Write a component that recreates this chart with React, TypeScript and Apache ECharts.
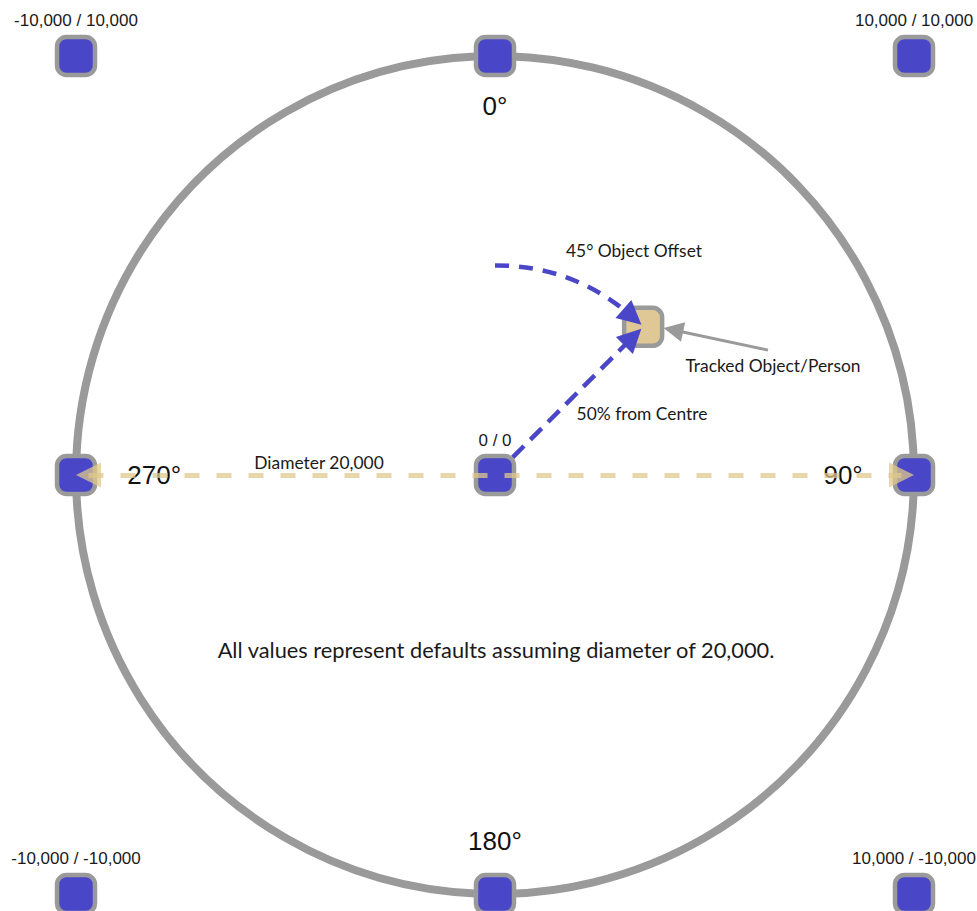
import React, { useEffect, useRef } from 'react';
import * as echarts from 'echarts';

// ---- data ----
const DIAMETER = 20000;
const CORNER_POINTS: number[][] = [
  [-10000, 10000],
  [10000, 10000],
  [-10000, -10000],
  [10000, -10000],
];
const CARDINAL_POINTS: number[][] = [
  [0, 10000],
  [10000, 0],
  [0, -10000],
  [-10000, 0],
];
const DEGREE_LABELS = ['0°', '90°', '180°', '270°'];
const CENTRE_POINT = [0, 0];
const OBJECT_ANGLE = 45; // degrees, clockwise from 0° (top)
const OBJECT_DISTANCE_PCT = 50; // % of radius from centre
const ANNOTATIONS = [
  '45° Object Offset',
  'Tracked Object/Person',
  '50% from Centre',
  'Diameter 20,000',
  'All values represent defaults assuming diameter of 20,000.',
];

// ---- layout ----
const W = 977;
const H = 911;
const CX = 495;
const CY = 475;
const R = 419;
const BLUE = '#4a46c8';
const GREY = '#9a9a9a';
const TAN = '#dfc896';
const NUM_FONT = '"Liberation Sans", Arial, Helvetica, sans-serif';
const NOTE_FONT = 'Lato, "Noto Sans", sans-serif';

const HALF = DIAMETER / 2;
const rad = (d: number) => (d * Math.PI) / 180;
const objDist = (HALF * OBJECT_DISTANCE_PCT) / 100;
const polarToXY = (angle: number, dist: number) => [dist * Math.sin(rad(angle)), dist * Math.cos(rad(angle))];
const OBJECT_POINT = polarToXY(OBJECT_ANGLE, objDist);
const fmt = (v: number) => v.toLocaleString('en-US');

export default function App() {
  const ref = useRef<HTMLDivElement>(null);
  useEffect(() => {
    document.body.style.margin = '0';
    if (!ref.current) return;
    const chart = echarts.init(ref.current, null, { renderer: 'svg' });

    const cardinalPos = ['bottom', 'left', 'top', 'right'];
    const cardinalDist = [16, 30, 19, 30];

    const blueSquares = [
      ...CORNER_POINTS.map((p) => ({
        value: p,
        label: {
          show: true,
          position: 'top',
          distance: 6,
          formatter: `${fmt(p[0])} / ${fmt(p[1])}`,
          fontSize: 17,
          fontFamily: NUM_FONT,
          color: '#1a1a1a',
        },
      })),
      ...CARDINAL_POINTS.map((p, i) => ({
        value: p,
        label: {
          show: true,
          position: cardinalPos[i],
          distance: cardinalDist[i],
          formatter: DEGREE_LABELS[i],
          fontSize: 26,
          fontFamily: NUM_FONT,
          color: '#111',
        },
      })),
      {
        value: CENTRE_POINT,
        label: {
          show: true,
          position: 'top',
          distance: 5,
          formatter: `${fmt(CENTRE_POINT[0])} / ${fmt(CENTRE_POINT[1])}`,
          fontSize: 17,
          fontFamily: NUM_FONT,
          color: '#1a1a1a',
        },
      },
    ];

    const pxPerUnit = R / HALF;
    const radialEnd = polarToXY(OBJECT_ANGLE, objDist - 12 / pxPerUnit - 60);
    const arcEnd = polarToXY(OBJECT_ANGLE - 4, objDist);
    const pointerFrom = [OBJECT_POINT[0] + 2980, OBJECT_POINT[1] - 555];
    const pointerTo = [OBJECT_POINT[0] + 720, OBJECT_POINT[1] - 75];
    const diamEnd = HALF - 12.5 / pxPerUnit;

    const textStyle = (text: string, size: number) => ({
      text,
      fontSize: size,
      fontFamily: NOTE_FONT,
      fill: '#1a1a1a',
      align: 'center',
      verticalAlign: 'middle',
      textAlign: 'center',
      textVerticalAlign: 'middle',
    });

    chart.setOption({
      animation: false,
      grid: { left: CX - R, top: CY - R, width: 2 * R, height: 2 * R },
      xAxis: { type: 'value', min: -HALF, max: HALF, show: false },
      yAxis: { type: 'value', min: -HALF, max: HALF, show: false },
      polar: { center: [CX, CY], radius: R },
      angleAxis: {
        type: 'value',
        min: 0,
        max: 360,
        startAngle: 90,
        clockwise: true,
        axisLine: { show: true, lineStyle: { color: GREY, width: 8 } },
        axisTick: { show: false },
        axisLabel: { show: false },
        splitLine: { show: false },
      },
      radiusAxis: { type: 'value', min: 0, max: HALF, show: false },
      series: [
        {
          type: 'scatter',
          z: 2,
          symbol: 'roundRect',
          symbolSize: 38,
          itemStyle: { color: TAN, borderColor: GREY, borderWidth: 4.5, opacity: 1 },
          data: [{ value: OBJECT_POINT }],
        },
        {
          type: 'lines',
          coordinateSystem: 'cartesian2d',
          z: 3,
          symbol: ['none', 'triangle'],
          symbolSize: 24,
          lineStyle: { color: BLUE, width: 4.5, opacity: 1, type: [16, 9] },
          data: [
            { coords: [CENTRE_POINT, radialEnd] },
            {
              coords: [polarToXY(0, objDist), arcEnd],
              lineStyle: { curveness: 0.19, type: [14, 10], color: BLUE, width: 4.5, opacity: 1 },
            },
          ],
        },
        {
          type: 'lines',
          coordinateSystem: 'cartesian2d',
          z: 3,
          symbol: ['none', 'triangle'],
          symbolSize: 20,
          lineStyle: { color: GREY, width: 3, opacity: 1, type: 'solid' },
          data: [{ coords: [pointerFrom, pointerTo] }],
        },
        {
          type: 'scatter',
          z: 4,
          symbol: 'roundRect',
          symbolSize: 38,
          itemStyle: { color: BLUE, borderColor: GREY, borderWidth: 4.5, opacity: 1 },
          data: blueSquares,
        },
        {
          type: 'lines',
          coordinateSystem: 'cartesian2d',
          z: 5,
          symbol: ['triangle', 'triangle'],
          symbolSize: 25,
          lineStyle: { color: '#e0c88c', width: 5, opacity: 0.75, type: [15, 17] },
          data: [{ coords: [[-diamEnd, 0], [diamEnd, 0]] }],
        },
      ],
      graphic: [
        { type: 'text', x: 634, y: 250, z: 10, style: textStyle(ANNOTATIONS[0], 17.4) },
        { type: 'text', x: 773, y: 365, z: 10, style: textStyle(ANNOTATIONS[1], 17.4) },
        { type: 'text', x: 642, y: 413, z: 10, style: textStyle(ANNOTATIONS[2], 17.4) },
        { type: 'text', x: 319, y: 462, z: 10, style: textStyle(ANNOTATIONS[3], 17.4) },
        { type: 'text', x: 496, y: 649, z: 10, style: textStyle(ANNOTATIONS[4], 21.8) },
      ],
    });
    return () => chart.dispose();
  }, []);
  return <div ref={ref} style={{ width: W, height: H }} />;
}
